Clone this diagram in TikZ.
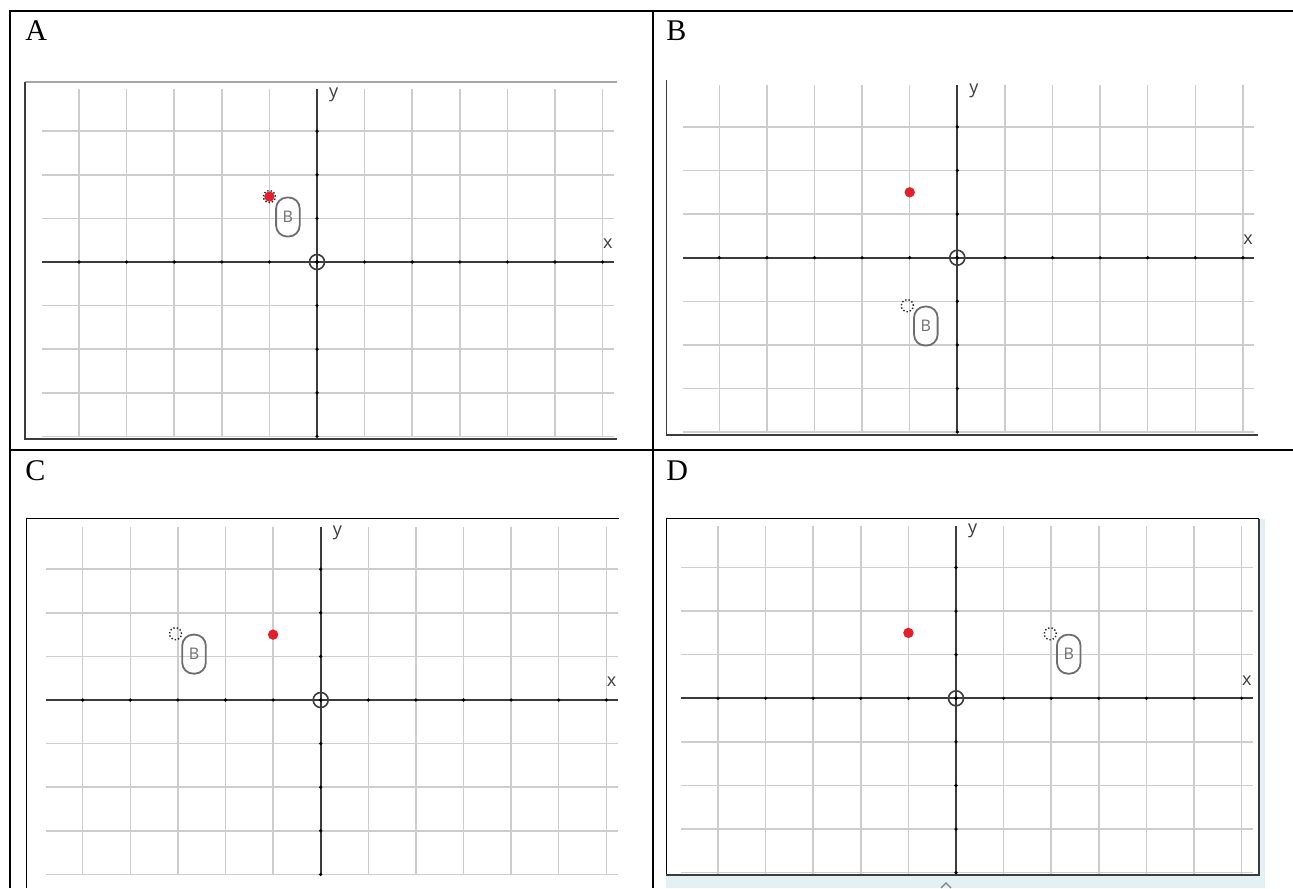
\documentclass[tikz,border=0pt]{standalone}
\usepackage{fontspec}
\setmainfont{Liberation Serif}
\newfontfamily\screenfont{Open Sans}
\usetikzlibrary{positioning}
\definecolor{gridgray}{HTML}{CDCDCD}
\definecolor{axisgray}{HTML}{3C3C3C}
\definecolor{dotred}{HTML}{E3202A}
\definecolor{boxgray}{HTML}{6E6E6E}
\definecolor{panelcyan}{HTML}{E4F1F4}
\tikzset{
 gridline/.style={draw=gridgray, line width=0.75pt},
 axisline/.style={draw=axisgray, line width=1pt},
 tickdot/.style={fill=black},
 axislabel/.style={font=\screenfont\fontsize{9}{9}\selectfont, text=axisgray, inner sep=0pt},
 originring/.style={circle, draw=axisgray, line width=0.8pt, minimum size=7.5pt, inner sep=0pt},
 reddot/.style={circle, fill=dotred, minimum size=5.2pt, inner sep=0pt},
 dragring/.style={circle, draw=black!85, densely dotted, line width=0.7pt, minimum size=6pt, inner sep=0pt},
 labelbox/.style={draw=boxgray, line width=0.9pt, rounded corners=5.5pt, minimum width=11.8pt, minimum height=19.5pt, inner sep=0pt, text=boxgray, font=\screenfont\fontsize{8}{8}\selectfont},
 panellabel/.style={anchor=base west, inner sep=0pt, font=\fontsize{15}{15}\selectfont},
 frameline/.style={draw=axisgray, line width=0.6pt},
 tableline/.style={draw=black, line width=1pt}
}
% #1 prefix, #2 #3 origin (px), #4 position of the dragged point (grid units)
\newcommand*{\coordgrid}[4]{%
 \begin{scope}[shift={(#2,#3)}, x=23.8pt, y=21.8pt]
  \foreach \i in {-5,...,6} \draw[gridline] (\i,3.96) -- (\i,-4.02);
  \foreach \j in {-4,...,3} \draw[gridline] (-5.77,\j) -- (6.24,\j);
  \draw[axisline] (-5.77,0) -- (6.24,0);
  \draw[axisline] (0,3.96) -- (0,-4.02);
  \foreach \i in {-5,...,6} \fill[tickdot] (\i,0) circle (0.9pt);
  \foreach \j in {-4,...,3} \fill[tickdot] (0,\j) circle (0.9pt);
  \node[axislabel] (#1-y) at (0.35,3.83) {y};
  \node[axislabel] (#1-x) at (6.11,0.41) {x};
  \node[originring] (#1-o) at (0,0) {};
  \node[reddot] (#1-p) at (-1,1.5) {};
  \node[dragring] (#1-r) at (#4) {};
  \node[labelbox, below right=0pt and 2.9pt of #1-r.center] (#1-b) {B};
 \end{scope}}

\begin{document}
\begin{tikzpicture}[x=0.5pt, y=-0.5pt]
 \useasboundingbox (0,0) rectangle (1293,888);
 % table
 \draw[tableline] (10,888) -- (10,11) -- (1293,11);
 \draw[tableline] (653,11) -- (653,888);
 \draw[tableline] (10,449.5) -- (1293,449.5);
 \node[panellabel] (labA) at (25,40.7) {A};
 \node[panellabel] (labB) at (666,40.7) {B};
 \node[panellabel] (labC) at (25,480) {C};
 \node[panellabel] (labD) at (666,480) {D};
 % screenshot frames
 \draw[frameline, draw=gray!70] (25,82) -- (617,82);
 \draw[frameline] (25,82) -- (25,439) -- (617,439);
 \draw[frameline] (666.4,80) -- (666.4,435) -- (1258,435);
 \draw[frameline, draw=black] (618.7,518.7) -- (26.5,518.7) -- (26.5,888);
 \fill[panelcyan] (666.4,518.7) rectangle (1265,888);
 \fill[white] (666.4,518.7) rectangle (1259.2,875);
 \draw[frameline, draw=black] (666.4,875) -- (666.4,518.7) -- (1259.2,518.7);
 \draw[frameline, line width=0.9pt] (1259.2,518.7) -- (1259.2,875) -- (666.4,875);
 \draw[draw=gray, line width=0.6pt] (941,888) -- (946,883) -- (951,888);
 % grids
 \coordgrid{A}{317}{262}{-1,1.5}
 \coordgrid{B}{957.3}{257.7}{-1.05,-1.1}
 \coordgrid{C}{320.7}{700}{-3.05,1.52}
 \coordgrid{D}{956}{698.3}{1.98,1.48}
\end{tikzpicture}
\end{document}
